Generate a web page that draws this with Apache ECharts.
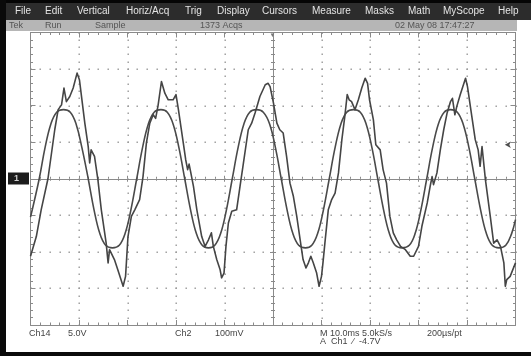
<!DOCTYPE html>
<html><head><meta charset="utf-8">
<script src="https://cdn.jsdelivr.net/npm/echarts@6/dist/echarts.min.js"></script>
<style>html,body{margin:0;padding:0;background:#fff}#c{width:531px;height:356px}</style>
</head><body><div id="c"></div>
<script>
const ch1Trace = [[0,-2.12],[0.12,-1.58],[0.22,-0.85],[0.36,0],[0.50,1.34],[0.57,1.89],[0.64,2.02],[0.69,2.48],[0.74,2.11],[0.81,2.25],[0.88,2.48],[0.96,2.89],[1.01,2.70],[1.12,1.52],[1.19,0.88],[1.22,0.43],[1.25,0.79],[1.32,0.61],[1.39,-0.03],[1.46,-0.85],[1.56,-1.76],[1.60,-2.30],[1.63,-1.94],[1.73,-2.21],[1.80,-2.49],[1.91,-2.94],[1.96,-2.67],[2.01,-1.58],[2.08,-1.03],[2.15,-0.85],[2.25,-0.57],[2.32,0.06],[2.39,0.98],[2.46,1.52],[2.53,1.75],[2.58,1.65],[2.63,2.0],[2.70,2.66],[2.77,2.34],[2.84,2.16],[2.94,2.16],[3.00,2.30],[3.05,1.89],[3.15,0.98],[3.20,0.52],[3.24,0.25],[3.27,0.40],[3.30,0.20],[3.36,-0.21],[3.43,-0.85],[3.53,-1.58],[3.60,-1.85],[3.67,-1.67],[3.73,-1.48],[3.77,-1.85],[3.84,-2.21],[3.91,-2.49],[3.94,-2.71],[3.99,-2.58],[4.03,-1.85],[4.08,-1.21],[4.15,-0.89],[4.25,-0.85],[4.32,-0.21],[4.39,0.43],[4.49,1.34],[4.56,1.52],[4.63,1.80],[4.73,2.25],[4.84,2.57],[4.90,2.61],[4.94,2.52],[5.01,2.07],[5.08,1.52],[5.14,1.34],[5.21,1.25],[5.28,0.61],[5.35,-0.12],[5.42,-0.48],[5.49,-1.03],[5.56,-1.67],[5.62,-2.21],[5.68,-2.44],[5.73,-2.30],[5.78,-2.12],[5.83,-2.30],[5.90,-2.58],[5.95,-2.94],[6.00,-2.67],[6.03,-2.30],[6.07,-1.76],[6.14,-0.85],[6.21,-0.57],[6.28,-0.39],[6.35,0.16],[6.42,1.07],[6.48,1.70],[6.53,2.30],[6.57,2.16],[6.62,2.11],[6.69,1.89],[6.76,2.16],[6.83,2.48],[6.90,2.75],[6.95,2.61],[6.99,2.16],[7.07,1.61],[7.12,0.93],[7.21,0.79],[7.27,0.25],[7.34,-0.12],[7.41,-1.03],[7.48,-1.48],[7.55,-1.67],[7.63,-1.85],[7.73,-1.94],[7.83,-2.12],[7.90,-2.12],[8.00,-1.85],[8.07,-1.30],[8.18,-0.66],[8.24,-0.21],[8.28,0.06],[8.31,-0.16],[8.38,0.16],[8.45,0.79],[8.52,1.34],[8.59,1.80],[8.66,2.11],[8.70,2.20],[8.75,1.75],[8.79,1.98],[8.86,2.30],[8.97,2.75],[9.01,2.52],[9.10,1.70],[9.17,1.07],[9.23,0.79],[9.27,0.34],[9.31,0.88],[9.38,-0.03],[9.48,-1.03],[9.55,-1.76],[9.62,-1.67],[9.69,-1.85],[9.76,-2.30],[9.79,-2.94],[9.82,-2.76],[9.89,-2.67],[10,-2.30]];

const ch2Trace = [[0,-1.05],[0.18,0],[0.30,0.85],[0.42,1.5],[0.54,1.82],[0.68,1.89],[0.82,1.82],[0.94,1.5],[1.06,0.85],[1.19,0],[1.31,-0.85],[1.43,-1.5],[1.55,-1.82],[1.69,-1.89],[1.83,-1.82],[1.95,-1.5],[2.07,-0.85],[2.19,0],[2.31,0.85],[2.43,1.5],[2.55,1.82],[2.69,1.89],[2.82,1.82],[2.94,1.5],[3.06,0.85],[3.18,0],[3.30,-0.85],[3.42,-1.5],[3.54,-1.82],[3.67,-1.89],[3.80,-1.82],[3.92,-1.5],[4.04,-0.85],[4.16,0],[4.28,0.85],[4.40,1.5],[4.52,1.82],[4.66,1.89],[4.80,1.82],[4.93,1.5],[5.05,0.85],[5.17,0],[5.29,-0.85],[5.41,-1.5],[5.53,-1.82],[5.67,-1.89],[5.80,-1.82],[5.92,-1.5],[6.04,-0.85],[6.16,0],[6.28,0.85],[6.40,1.5],[6.52,1.82],[6.66,1.89],[6.80,1.82],[6.92,1.5],[7.04,0.85],[7.16,0],[7.28,-0.85],[7.40,-1.5],[7.52,-1.82],[7.66,-1.89],[7.81,-1.82],[7.93,-1.5],[8.05,-0.85],[8.17,0],[8.29,0.85],[8.41,1.5],[8.53,1.82],[8.66,1.89],[8.80,1.82],[8.92,1.5],[9.04,0.85],[9.16,0],[9.28,-0.85],[9.40,-1.5],[9.52,-1.82],[9.66,-1.89],[9.80,-1.82],[9.92,-1.5],[10,-1.12]];

const ch2Marker = [[9.78, 0.93]];

// graticule: major division lines (in divisions) that carry dotted lines
const gratX = [1, 2, 3, 4, 6, 7, 8, 9];
const gratY = [-3, -2, -1, 1, 2, 3];

const menuLabels = ['File','Edit','Vertical','Horiz/Acq','Trig','Display','Cursors','Measure','Masks','Math','MyScope','Help'];
const statusLabels = ['Tek','Run','Sample','1373 Acqs','02 May 08 17:47:27'];
const readoutLabels = ['Ch14','5.0V','Ch2','100mV','M 10.0ms 5.0kS/s','200µs/pt','A  Ch1  ⁄  -4.7V'];

const FONT = '"Liberation Sans", Arial, sans-serif';
const AXC = '#8a8a8a';

function axis(o) {
  return {
    type: 'value', min: o.min, max: o.max, interval: 1, position: o.position,
    axisLabel: { show: false },
    axisLine: { show: true, onZero: o.onZero, onZeroAxisIndex: o.onZeroAxisIndex, lineStyle: { color: AXC, width: 1 } },
    axisTick: { show: true, inside: true, length: o.tick, lineStyle: { color: AXC, width: 1 } },
    minorTick: { show: true, splitNumber: 5, length: o.minor, lineStyle: { color: AXC, width: 1 } },
    splitLine: { show: false },
    minorSplitLine: { show: false },
    z: 1
  };
}

const chart = echarts.init(document.getElementById('c'), null, { renderer: 'canvas' });

const menuX = [15,45,77,126,185,217,262,312,365,408,443,498];
const statusX = [9,45,95,200,395];
const readoutPos = [[29,333.5],[68,333.5],[175,333.5],[215,333.5],[320,333.5],[427,333.5],[320,342]];

const graphic = [
  { type: 'rect', shape: { x: 0, y: 0, width: 531, height: 20 }, style: { fill: '#2c2c2c' }, z: 10 },
  { type: 'rect', shape: { x: 0, y: 0, width: 531, height: 3 }, style: { fill: '#050505' }, z: 10 },
  { type: 'rect', shape: { x: 6, y: 20, width: 511, height: 11 }, style: { fill: '#b6b6b6' }, z: 10 },
  { type: 'rect', shape: { x: 0, y: 0, width: 6, height: 356 }, style: { fill: '#0a0a0a' }, z: 11 },
  { type: 'rect', shape: { x: 0, y: 352, width: 531, height: 4 }, style: { fill: '#0a0a0a' }, z: 11 },
  { type: 'rect', shape: { x: 8, y: 172.5, width: 21, height: 12 }, style: { fill: '#1c1c1c' }, z: 10 },
  { type: 'text', x: 14, y: 178.5, style: { text: '1', fill: '#cfcfcf', font: 'bold 9px ' + FONT, verticalAlign: 'middle' }, z: 11 },
  { type: 'text', x: 272.5, y: 35, style: { text: '▼', fill: '#777', font: '6px ' + FONT, align: 'center', verticalAlign: 'middle' }, z: 11 }
];
menuLabels.forEach((t, i) => graphic.push({ type: 'text', x: menuX[i], y: 11.5, style: { text: t, fill: '#e4e4e4', font: '10px ' + FONT, verticalAlign: 'middle' }, z: 12 }));
statusLabels.forEach((t, i) => graphic.push({ type: 'text', x: statusX[i], y: 25.5, style: { text: t, fill: '#555', font: '9px ' + FONT, verticalAlign: 'middle' }, z: 12 }));
readoutLabels.forEach((t, i) => graphic.push({ type: 'text', x: readoutPos[i][0], y: readoutPos[i][1], style: { text: t, fill: '#444', font: '9px ' + FONT, verticalAlign: 'middle' }, z: 12 }));

function renderGraticule(params, api) {
  const children = [];
  const dot = (p) => children.push({ type: 'rect', shape: { x: Math.round(p[0]) - 0.5, y: Math.round(p[1]) - 0.5, width: 1.4, height: 1.4 }, style: { fill: '#9a9a9a' } });
  gratX.forEach(gx => { for (let k = -20; k <= 20; k++) dot(api.coord([gx, k / 5])); });
  gratY.forEach(gy => { for (let k = 0; k <= 50; k++) dot(api.coord([k / 5, gy])); });
  return { type: 'group', children: children, silent: true };
}

chart.setOption({
  animation: false,
  backgroundColor: '#ffffff',
  grid: { left: 30.5, top: 32.5, width: 485, height: 292.5, containLabel: false, outerBoundsMode: 'none' },
  xAxis: [
    axis({ min: 0, max: 10, position: 'bottom', onZero: true, onZeroAxisIndex: 0, tick: 3, minor: 2 }),
    axis({ min: 0, max: 10, position: 'top', onZero: true, onZeroAxisIndex: 0, tick: 3, minor: 2 }),
    axis({ min: -5, max: 5, position: 'bottom', onZero: false, tick: 5, minor: 2.5 }),
    axis({ min: 0, max: 10, position: 'top', onZero: false, tick: 5, minor: 2.5 })
  ],
  yAxis: [
    axis({ min: -4, max: 4, position: 'left', onZero: false, tick: 5, minor: 2.5 }),
    axis({ min: -4, max: 4, position: 'left', onZero: true, onZeroAxisIndex: 2, tick: 3, minor: 2 }),
    axis({ min: -4, max: 4, position: 'right', onZero: true, onZeroAxisIndex: 2, tick: 3, minor: 2 }),
    axis({ min: -4, max: 4, position: 'right', onZero: false, tick: 5, minor: 2.5 })
  ],
  series: [
    { name: 'graticule', type: 'custom', xAxisIndex: 0, yAxisIndex: 0, data: [[0, 0]], renderItem: renderGraticule, silent: true, z: 1, clip: false },
    { name: 'Ch2', type: 'line', xAxisIndex: 0, yAxisIndex: 0, data: ch2Trace, smooth: 0.4, showSymbol: false, symbol: 'none',
      lineStyle: { color: '#4a4a4a', width: 1.6 }, z: 5, silent: true },
    { name: 'Ch1', type: 'line', xAxisIndex: 0, yAxisIndex: 0, data: ch1Trace, smooth: false, showSymbol: false, symbol: 'none',
      lineStyle: { color: '#454545', width: 1.6, join: 'round' }, z: 6, silent: true },
    { name: 'marker', type: 'scatter', xAxisIndex: 0, yAxisIndex: 0, data: ch2Marker, symbol: 'arrow', symbolSize: [5, 6], symbolRotate: 90,
      itemStyle: { color: '#222' }, z: 7, silent: true }
  ],
  graphic: graphic
});
</script>
</body></html>
